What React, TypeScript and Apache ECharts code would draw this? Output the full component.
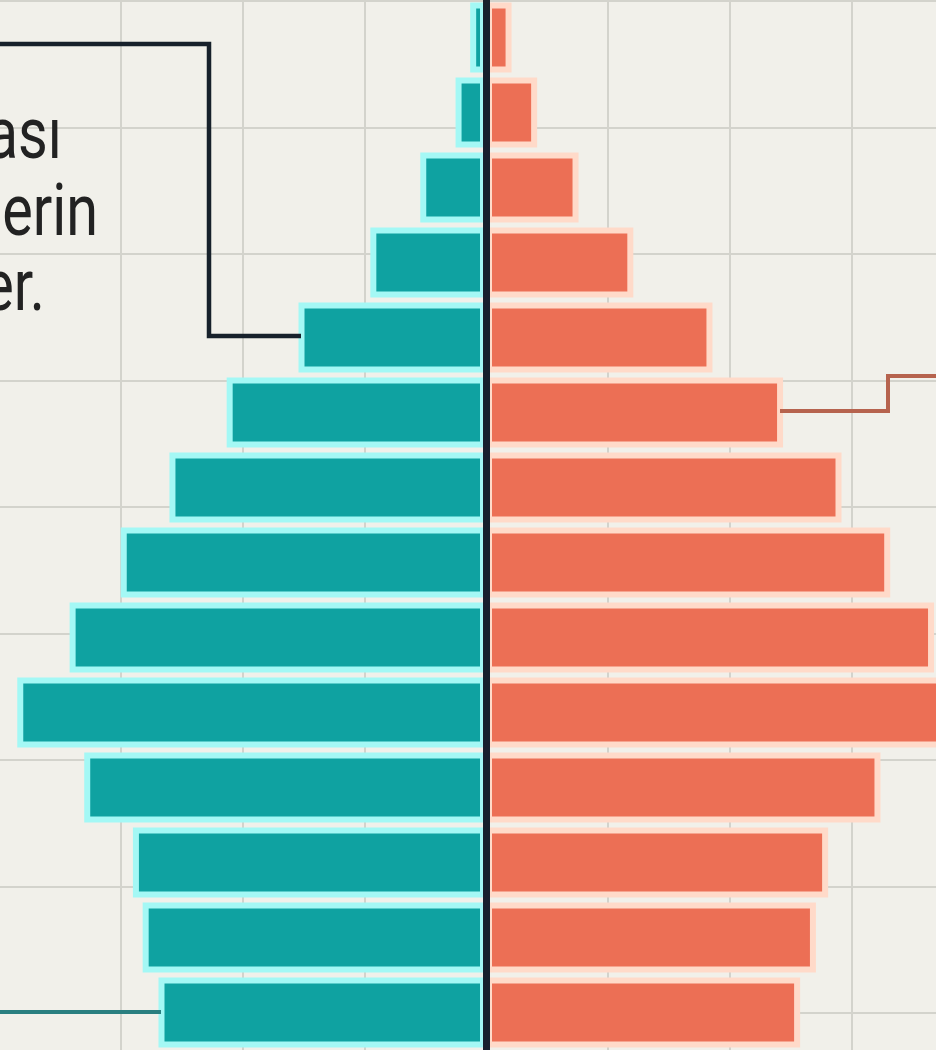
import React, { useEffect, useRef } from "react";
import * as echarts from "echarts";

// Age groups, bottom (youngest) to top (oldest)
const ageGroups = ["0-4", "5-9", "10-14", "15-19", "20-24", "25-29", "30-34", "35-39", "40-44", "45-49", "50-54", "55-59", "60-64", "65+"];
// Share of population (%), left side (teal) and right side (coral)
const maleShare = [2.69, 2.82, 2.9, 3.3, 3.85, 3.42, 3.0, 2.6, 2.13, 1.54, 0.95, 0.54, 0.25, 0.13];
const femaleShare = [2.58, 2.71, 2.81, 3.24, 3.92, 3.68, 3.32, 2.92, 2.44, 1.86, 1.21, 0.76, 0.42, 0.21];
// Visible fragments of the annotation text (cut off by the frame)
const noteLines = ["ası", "erin", "er."];

const BG = "#f1f0ea";
const GRID = "#d3d3cc";
const TEAL = "#0fa2a1";
const TEAL_HALO = "#a4f8f5";
const CORAL = "#ec6f55";
const CORAL_HALO = "#ffdac9";

// chart canvas is slightly wider than the window and shifted left by 1px
const SHIFT = 1;

export default function App() {
  const ref = useRef<HTMLDivElement>(null);

  useEffect(() => {
    if (!ref.current) return;
    const chart = echarts.init(ref.current, undefined, { renderer: "svg" });

    const noteRight = [62, 98, 45];
    const noteMid = [134, 211, 286];

    chart.setOption({
      animation: false,
      backgroundColor: BG,
      grid: [
        { left: 0, right: 0, top: 0, bottom: 0, containLabel: false },
        { left: 0, right: 0, top: 1, height: 1012, containLabel: false },
      ],
      xAxis: [
        {
          type: "value",
          gridIndex: 0,
          min: -4,
          max: 4,
          interval: 1,
          axisLine: { show: false },
          axisTick: { show: false },
          axisLabel: { show: false },
          splitLine: { show: true, lineStyle: { color: GRID, width: 2 } },
        },
        {
          type: "value",
          gridIndex: 1,
          min: 0,
          max: 1,
          show: false,
          splitLine: { show: false },
        },
      ],
      yAxis: [
        {
          type: "category",
          gridIndex: 0,
          data: ageGroups,
          boundaryGap: true,
          z: 6,
          axisLine: { show: true, onZero: true, lineStyle: { color: "#17212d", width: 7 } },
          axisTick: { show: false },
          axisLabel: { show: false },
          splitLine: { show: false },
        },
        {
          type: "value",
          gridIndex: 1,
          min: 0,
          max: 8,
          interval: 1,
          axisLine: { show: false },
          axisTick: { show: false },
          axisLabel: { show: false },
          splitLine: { show: true, lineStyle: { color: GRID, width: 2 } },
        },
      ],
      series: [
        {
          name: "Erkek",
          type: "bar",
          xAxisIndex: 0,
          yAxisIndex: 0,
          data: maleShare.map((v) => -v),
          barCategoryGap: "6.67%",
          barGap: "-100%",
          itemStyle: { color: TEAL, borderColor: TEAL_HALO, borderWidth: 6 },
        },
        {
          name: "Kadın",
          type: "bar",
          xAxisIndex: 0,
          yAxisIndex: 0,
          data: femaleShare,
          barCategoryGap: "6.67%",
          barGap: "-100%",
          itemStyle: { color: CORAL, borderColor: CORAL_HALO, borderWidth: 6 },
        },
      ],
      graphic: [
        {
          type: "polyline",
          z: 20,
          shape: { points: [[-6 + SHIFT, 44], [209 + SHIFT, 44], [209 + SHIFT, 336], [301 + SHIFT, 336]] },
          style: { stroke: "#17212b", lineWidth: 4.5, fill: null },
        },
        {
          type: "polyline",
          z: 20,
          shape: { points: [[780 + SHIFT, 411], [888 + SHIFT, 411], [888 + SHIFT, 376], [950, 376]] },
          style: { stroke: "#b6634e", lineWidth: 4, fill: null },
        },
        {
          type: "line",
          z: 20,
          shape: { x1: -6, y1: 1012, x2: 161 + SHIFT, y2: 1012 },
          style: { stroke: "#2a7f80", lineWidth: 4 },
        },
        ...noteLines.map((t, i) => ({
          type: "text",
          z: 20,
          x: noteRight[i] + SHIFT,
          y: noteMid[i],
          scaleX: 0.8,
          style: {
            text: t,
            fontSize: 72,
            fontFamily: "Roboto",
            fill: "#222222",
            textAlign: "right",
            textVerticalAlign: "middle",
          },
        })),
      ],
    });

    return () => chart.dispose();
  }, []);

  return (
    <div
      style={{ position: "absolute", left: 0, top: 0, width: 936, height: 1050, overflow: "hidden", background: BG }}
    >
      <div ref={ref} style={{ position: "absolute", left: -SHIFT, top: 0, width: 974, height: 1050 }} />
    </div>
  );
}
